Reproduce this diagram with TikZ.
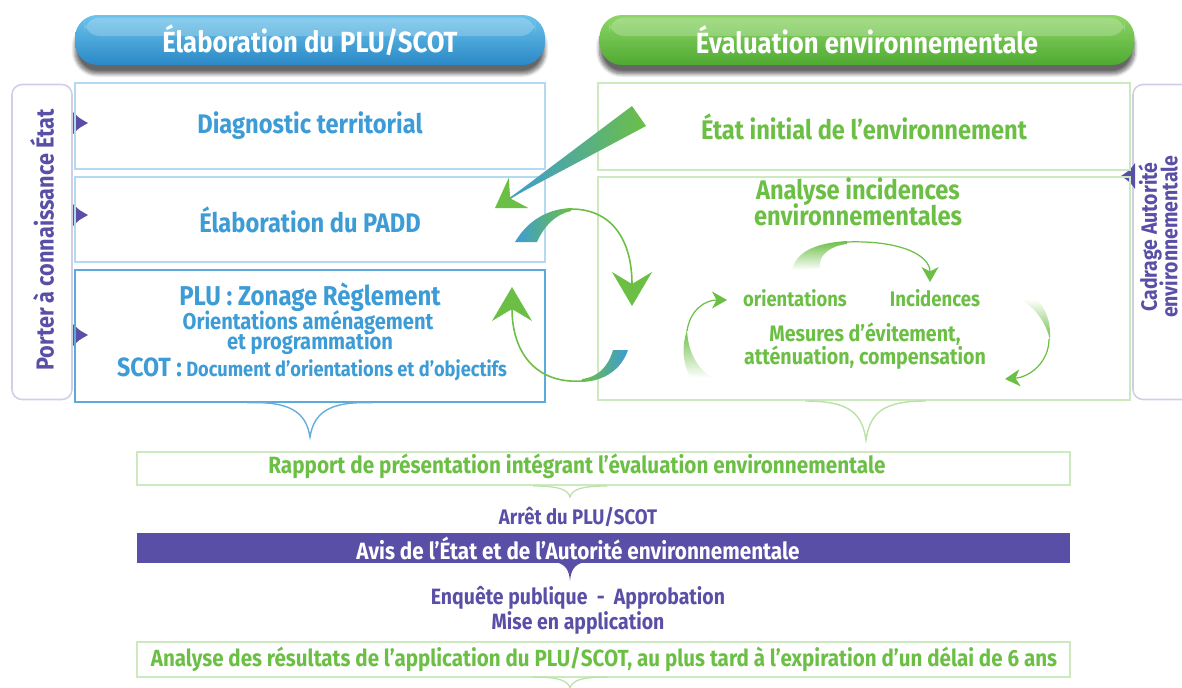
\documentclass[tikz,border=0pt]{standalone}
\usepackage{fontspec}
\setmainfont{Fira Sans}[FakeStretch=0.88]
\usepackage{tikz}
\usetikzlibrary{arrows.meta,positioning,calc,shadows.blur}
\definecolor{plublue}{HTML}{3D9BD6}
\definecolor{plubluetop}{HTML}{6CC3EC}
\definecolor{plubluebot}{HTML}{2A88C6}
\definecolor{plublueli}{HTML}{B4DAF1}
\definecolor{envgreen}{HTML}{6CBF45}
\definecolor{envgreentop}{HTML}{8ED667}
\definecolor{envgreenbot}{HTML}{4FAA32}
\definecolor{envgreenli}{HTML}{CDE9BF}
\definecolor{avispurple}{HTML}{5A4FA6}
\definecolor{sidelav}{HTML}{D2CEE6}
\newcommand{\fsz}[1]{\fontsize{#1}{#1}\selectfont\bfseries}

\begin{document}
\begin{tikzpicture}[x=0.02cm,y=-0.02cm,
  txt/.style={inner sep=0pt,align=center},
  head/.style={rounded corners=0.45cm,minimum height=1cm,text=white,font=\fsz{16.6},
    blur shadow={shadow xshift=0pt,shadow yshift=-5pt,shadow blur steps=8,shadow opacity=60}},
  gloss/.style={white,opacity=0.22,rounded corners=0.3cm},
  plubox/.style={draw=plublueli,line width=0.9pt,minimum width=9.4cm,text=plublue,font=\fsz{15.3}},
  envbox/.style={draw=envgreenli,line width=0.9pt,minimum width=10.64cm,text=envgreen,font=\fsz{15.3}},
  sidebox/.style={draw=sidelav,line width=0.9pt,rounded corners=0.2cm,minimum width=1.2cm,minimum height=6.3cm},
  bandbox/.style={minimum width=18.66cm,minimum height=0.66cm},
  plutxt/.style={txt,text=plublue},
  envtxt/.style={txt,text=envgreen},
  avistxt/.style={txt,text=avispurple},
  cyc/.style={envgreen,line width=0.9pt},
  bighead/.style={-{Stealth[length=0.68cm,width=0.8cm,inset=0.24cm]}},
  smallhead/.style={-{Stealth[length=0.3cm,width=0.34cm,inset=0.09cm]}}]
\useasboundingbox (0,0) rectangle (1182,687);

% headers
\node[head,top color=plubluetop,bottom color=plubluebot,minimum width=9.4cm] (hdplu) at (310,40) {Élaboration du PLU/SCOT};
\node[head,top color=envgreentop,bottom color=envgreenbot,minimum width=10.7cm] (hdenv) at (867,40) {Évaluation environnementale};
\fill[gloss] ($(hdplu.north west)+(10,3)$) rectangle ($(hdplu.east)+(-10,-4)$);
\fill[gloss] ($(hdenv.north west)+(10,3)$) rectangle ($(hdenv.east)+(-10,-4)$);

% side frames
\node[sidebox] (pac) at (42,242) {};
\node[avistxt,rotate=90,font=\fsz{14}] (pactxt) at (42,240) {Porter à connaissance État};
\node[sidebox] (cadre) at (1163,242) {};
\node[avistxt,rotate=90,font=\fsz{12.6}] (cadretxt) at (1158,237) {Cadrage Autorité\\[-2.4pt]environnementale};
\foreach \ty in {123,215,335}
  \fill[avispurple] (73,\ty-11) .. controls (79,\ty-5) .. (88,\ty) .. controls (79,\ty+5) .. (73,\ty+11) -- cycle;
\fill[avispurple] (1135,163) .. controls (1130,170) .. (1121,176) .. controls (1130,182) .. (1135,189) -- cycle;

% PLU column
\node[plubox,minimum height=1.72cm] (diag) at (310,126) {Diagnostic territorial};
\node[plubox,minimum height=1.7cm] (padd) at (310,219.5) {Élaboration du PADD};
\node[plubox,draw=plublue!85,minimum height=2.64cm] (plu) at (310,336) {};
\node[plutxt,font=\fsz{15.5}] (plutitle) at (310,297) {PLU : Zonage Règlement};
\node[plutxt,font=\fsz{13}] (pluorient) at (308,322) {Orientations aménagement};
\node[plutxt,font=\fsz{13}] (pluprog) at (310,343) {et programmation};
\node[plutxt,font=\fsz{11.8}] (scot) at (312,369) {{\fsz{15}SCOT :} Document d’orientations et d’objectifs};

% environment column
\node[envbox,minimum height=1.74cm] (etat) at (864,126.5) {État initial de l’environnement};
\node[envbox,minimum height=4.46cm] (incid) at (864,288.5) {};
\node[envtxt,font=\fsz{15.3}] (anatxt) at (858,202) {Analyse incidences\\[-1.7pt]environnementales};
\node[envtxt,font=\fsz{11.9}] (orient) at (795,298) {orientations};
\node[envtxt,font=\fsz{12}] (incs) at (935,298) {Incidences};
\node[envtxt,font=\fsz{12.7}] (mesures) at (865,346) {Mesures d’évitement,\\[-0.8pt]atténuation, compensation};

% braces
\draw[plublue!80,line width=0.8pt] ($(plu.south)+(-63,0)$) .. controls (290,401) and (306,412) .. (310,437)
  .. controls (314,412) and (330,401) .. ($(plu.south)+(63,0)$);
\draw[envgreenli!80!envgreen,line width=0.8pt] (805,401) .. controls (848,401) and (862,412) .. (866,440)
  .. controls (870,412) and (884,401) .. (926,401);

% bottom bands
\node[draw=envgreenli,line width=0.9pt,bandbox] (rapport) at (603.5,468.5) {};
\node[envtxt,font=\fsz{13.4}] (rapptxt) at (577,466) {Rapport de présentation intégrant l’évaluation environnementale};
\draw[envgreenli!80!envgreen,line width=0.7pt] (533,486) .. controls (560,486) and (568,490) .. (570,497)
  .. controls (572,490) and (580,486) .. (607,486);
\node[avistxt,font=\fsz{12}] (arret) at (578,517) {Arrêt du PLU/SCOT};
\node[fill=avispurple,bandbox,minimum height=0.6cm] (avis) at (603.5,548) {};
\node[txt,text=white,font=\fsz{13.4}] (avislbl) at (578,548) {Avis de l’État et de l’Autorité environnementale};
\fill[avispurple] (556,562) .. controls (566,565) and (569,570) .. (570,581) .. controls (571,570) and (574,565) .. (584,562) -- cycle;
\node[avistxt,font=\fsz{12.6}] (enquete) at (578,598) {Enquête publique \ - \ Approbation};
\node[avistxt,font=\fsz{12.6}] (mise) at (578,623) {Mise en application};
\node[draw=envgreenli,line width=0.9pt,bandbox,minimum height=0.7cm] (resultats) at (603.5,659.5) {};
\node[envtxt,font=\fsz{13.3}] (restxt) at (604,659) {Analyse des résultats de l’application du PLU/SCOT, au plus tard à l’expiration d’un délai de 6 ans};
\draw[envgreenli!80!envgreen,line width=0.7pt] (533,677) .. controls (560,677) and (568,681) .. (570,688)
  .. controls (572,681) and (580,677) .. (607,677);

% arrow from initial state to PADD
\coordinate (strtail) at (638,116);
\coordinate (strtip) at (495,208);
\draw[envgreen,line width=1pt,-{Stealth[length=0.56cm,width=0.72cm,inset=0.2cm]}] (strtail) -- (strtip);
\shade[left color=plublue,right color=envgreen] (632,106) -- (646,126) -- (507,200) -- cycle;

% PADD / PLU cycle
\shade[left color=plublue,right color=envgreen] (515,242) .. controls (528,220) and (548,209) .. (571,208)
  -- (571,211) .. controls (556,214) and (544,226) .. (537,242) -- cycle;
\draw[cyc,bighead] (571,209) .. controls (612,209) and (632,240) .. (632,306);
\shade[left color=envgreen,right color=plublue] (628,350) .. controls (621,370) and (604,381) .. (582,382)
  -- (582,379) .. controls (598,377) and (608,367) .. (613,350) -- cycle;
\draw[cyc,bighead] (582,381) .. controls (538,384) and (512,355) .. (512,287);

% incidences cycle
\shade[top color=envgreen,bottom color=white] (792,270) .. controls (796,252) and (815,243) .. (847,241)
  -- (847,244) .. controls (830,246) and (818,255) .. (820,268) -- cycle;
\draw[cyc,line width=0.7pt,smallhead] (846,242) .. controls (900,240) and (930,255) .. (930,282);
\shade[top color=white,bottom color=envgreen] (1019,299) -- (1036,299) .. controls (1046,308) and (1051,322) .. (1050,340)
  .. controls (1046,322) and (1034,306) .. (1019,299) -- cycle;
\draw[cyc,line width=0.7pt,smallhead] (1049,339) .. controls (1049,362) and (1030,377) .. (1005,379);
\shade[top color=envgreen,bottom color=white] (690,377) -- (712,378) .. controls (697,368) and (688,352) .. (687,330)
  .. controls (682,345) and (682,362) .. (690,377) -- cycle;
\draw[cyc,line width=0.7pt,smallhead] (687,331) .. controls (690,310) and (705,300) .. (727,300);
\end{tikzpicture}
\end{document}
